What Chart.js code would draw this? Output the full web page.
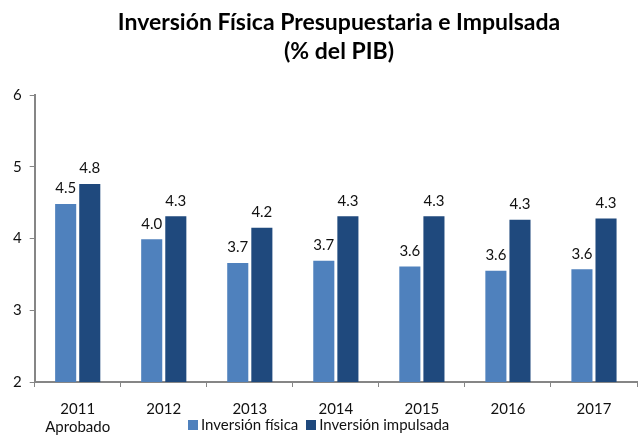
<!DOCTYPE html>
<html>
<head>
<meta charset="utf-8">
<script src="https://cdn.jsdelivr.net/npm/chart.js@4"></script>
<style>
  body { margin: 0; background: #fff; }
  #wrap { position: relative; width: 638px; height: 435px; }
  #title {
    position: absolute; left: 39px; top: 7px; width: 600px;
    text-align: center; font-family: Lato, sans-serif; font-weight: bold;
    font-size: 23px; line-height: 29px; color: #000;
  }
  #legend {
    position: absolute; left: 188px; top: 415px;
    font-family: Lato, sans-serif; font-size: 15px; color: #111;
    white-space: nowrap;
  }
  #legend span.box {
    display: inline-block; width: 10px; height: 10px; margin-right: 3px;
  }
  #legend span.item { margin-right: 8px; }
</style>
</head>
<body>
<div id="wrap">
  <canvas id="barChart" width="638" height="435"></canvas>
  <div id="title">Inversión Física Presupuestaria e Impulsada<br>(% del PIB)</div>
  <div id="legend"></div>
</div>
<script>
const years = [["2011", "Aprobado"], "2012", "2013", "2014", "2015", "2016", "2017"];
const fisica = [4.48, 3.99, 3.66, 3.69, 3.61, 3.55, 3.57];
const impulsada = [4.76, 4.31, 4.15, 4.31, 4.31, 4.26, 4.28];
const fisicaLabels = ["4.5", "4.0", "3.7", "3.7", "3.6", "3.6", "3.6"];
const impulsadaLabels = ["4.8", "4.3", "4.2", "4.3", "4.3", "4.3", "4.3"];
const yTicks = [2, 3, 4, 5, 6];

const seriesNames = ["Inversión física", "Inversión impulsada"];
const colors = ["#4F81BD", "#1F497D"];

// value labels above each bar
const barLabels = {
  id: "barLabels",
  afterDatasetsDraw(chart) {
    const ctx = chart.ctx;
    const texts = [fisicaLabels, impulsadaLabels];
    ctx.save();
    ctx.font = "15px Lato, sans-serif";
    ctx.fillStyle = "#111";
    ctx.textAlign = "center";
    ctx.textBaseline = "bottom";
    chart.data.datasets.forEach((ds, i) => {
      chart.getDatasetMeta(i).data.forEach((bar, j) => {
        ctx.fillText(texts[i][j], bar.x, bar.y - 8);
      });
    });
    ctx.restore();
  },
};

const ctx = document.getElementById("barChart").getContext("2d");
new Chart(ctx, {
  type: "bar",
  data: {
    labels: years,
    datasets: [
      {
        label: seriesNames[0],
        data: fisica,
        backgroundColor: colors[0],
        barPercentage: 0.875,
        categoryPercentage: 0.56,
      },
      {
        label: seriesNames[1],
        data: impulsada,
        backgroundColor: colors[1],
        barPercentage: 0.875,
        categoryPercentage: 0.56,
      },
    ],
  },
  options: {
    responsive: false,
    animation: false,
    layout: { padding: { left: 5, right: 1, top: 95, bottom: -14 } },
    plugins: {
      legend: { display: false },
      tooltip: { enabled: false },
      title: { display: false },
    },
    scales: {
      x: {
        border: { color: "#868686", width: 2 },
        grid: { offset: true, drawOnChartArea: false, tickLength: 5, color: "#868686" },
        ticks: {
          color: "#111",
          font: { family: "Lato, sans-serif", size: 15, lineHeight: 1.2 },
          padding: 13,
          maxRotation: 0,
        },
      },
      y: {
        min: 2,
        max: 6,
        afterBuildTicks(axis) {
          axis.ticks = yTicks.map((v) => ({ value: v }));
        },
        border: { color: "#868686", width: 2 },
        grid: { drawOnChartArea: false, tickLength: 5, color: "#868686" },
        ticks: {
          color: "#111",
          font: { family: "Lato, sans-serif", size: 15 },
          padding: 8,
        },
      },
    },
  },
  plugins: [barLabels],
});

// legend in html, sits on the x label area like the original
const legendEl = document.getElementById("legend");
seriesNames.forEach((name, i) => {
  legendEl.innerHTML += `<span class="item"><span class="box" style="background:${colors[i]}"></span>${name}</span>`;
});
</script>
</body>
</html>
